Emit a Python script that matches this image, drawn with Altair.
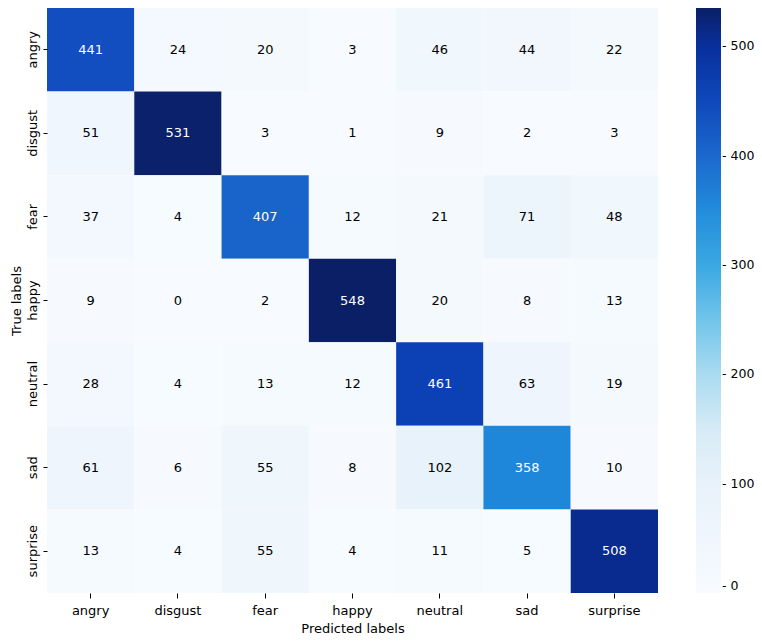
import altair as alt
import pandas as pd

labels = ["angry", "disgust", "fear", "happy", "neutral", "sad", "surprise"]
matrix = [
    [441, 24, 20, 3, 46, 44, 22],
    [51, 531, 3, 1, 9, 2, 3],
    [37, 4, 407, 12, 21, 71, 48],
    [9, 0, 2, 548, 20, 8, 13],
    [28, 4, 13, 12, 461, 63, 19],
    [61, 6, 55, 8, 102, 358, 10],
    [13, 4, 55, 4, 11, 5, 508],
]
color_stops = [0, 100, 155, 200, 264, 300, 355, 400, 435, 470, 500, 535]
color_range = ["#f7fbff", "#e8f2fa", "#d4eaf6", "#aadbf0", "#5fbee8", "#3aa8e2",
               "#2189da", "#1b68cd", "#1452c2", "#0a3ab0", "#082f9c", "#0b1f66"]
legend_ticks = [0, 100, 200, 300, 400, 500]

rows = []
for i, t in enumerate(labels):
    for j, p in enumerate(labels):
        rows.append({"true": t, "pred": p, "count": matrix[i][j]})
df = pd.DataFrame(rows)

FONT = "DejaVu Sans"
FS = 13

base = alt.Chart(df)

heat = base.mark_rect(strokeWidth=0).encode(
    x=alt.X("pred:N", sort=labels, title="Predicted labels",
            scale=alt.Scale(paddingInner=0, paddingOuter=0),
            axis=alt.Axis(labelAngle=0, tickSize=5, labelPadding=6, domain=False,
                          titlePadding=5)),
    y=alt.Y("true:N", sort=labels, title="True labels",
            scale=alt.Scale(paddingInner=0, paddingOuter=0),
            axis=alt.Axis(labelAngle=270, labelAlign="center", labelBaseline="bottom",
                          tickSize=4, labelPadding=4, domain=False, titleX=-24)),
    color=alt.Color("count:Q",
                    scale=alt.Scale(domain=color_stops, range=color_range, clamp=True),
                    legend=alt.Legend(type="gradient", title=None, direction="vertical",
                                      gradientLength=585, gradientThickness=25,
                                      values=legend_ticks, offset=38,
                                      labelOffset=1, labelExpr="'- ' + datum.label",
                                      labelFontSize=12.5,
                                      gradientStrokeWidth=0)),
)

text = base.mark_text(font=FONT, fontSize=FS).encode(
    x=alt.X("pred:N", sort=labels),
    y=alt.Y("true:N", sort=labels),
    text="count:Q",
    color=alt.condition(alt.datum.count > 250, alt.value("white"), alt.value("black")),
)

chart = (heat + text).properties(
    width=611, height=585,
    autosize=alt.AutoSizeParams(type="none"),
    padding={"left": 39, "top": 0, "right": 96, "bottom": 45},
).configure_axis(
    labelFont=FONT, titleFont=FONT, labelFontSize=FS, titleFontSize=FS,
    labelColor="black", titleColor="black", titleFontWeight="normal",
    tickColor="black", grid=False,
).configure_legend(
    labelFont=FONT, labelColor="black",
).configure_view(strokeWidth=0)

chart.save("out.html", embed_options={"renderer": "svg", "actions": False})
